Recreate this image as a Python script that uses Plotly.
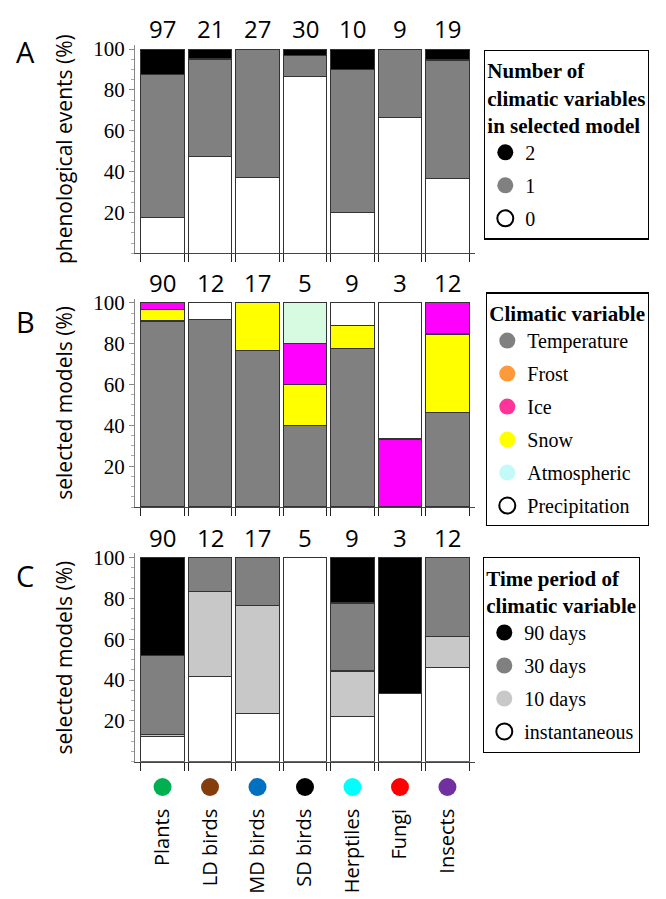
import plotly.graph_objects as go

W, H = 666, 899

# ---------------- data ----------------
groups = ["Plants", "LD birds", "MD birds", "SD birds", "Herptiles", "Fungi", "Insects"]
group_colors = ["#00b050", "#843c0c", "#0070c0", "#000000", "#00ffff", "#ff0000", "#7030a0"]

# Panel A: number of climatic variables in selected model (% of phenological events)
n_events = [97, 21, 27, 30, 10, 9, 19]
a_zero = [17.5, 47.6, 37.0, 86.7, 20.0, 66.7, 36.8]
a_one = [70.1, 47.6, 63.0, 10.0, 70.0, 33.3, 57.9]
a_two = [12.4, 4.8, 0.0, 3.3, 10.0, 0.0, 5.3]

# Panel B: climatic variable (% of selected models)
n_models = [90, 12, 17, 5, 9, 3, 12]
b_temperature = [91.1, 91.7, 76.5, 40.0, 77.8, 0.0, 46.2]
b_frost = [0, 0, 0, 0, 0, 0, 0]
b_snow = [5.6, 0.0, 23.5, 20.0, 11.1, 0.0, 38.5]
b_ice = [3.3, 0.0, 0.0, 20.0, 0.0, 33.3, 15.3]
b_atmospheric = [0.0, 0.0, 0.0, 20.0, 0.0, 0.0, 0.0]
b_precipitation = [0.0, 8.3, 0.0, 0.0, 11.1, 66.7, 0.0]

# Panel C: time period of climatic variable (% of selected models)
c_instant = [12.2, 41.7, 23.5, 100.0, 22.2, 33.3, 46.2]
c_10 = [1.1, 41.6, 52.9, 0.0, 22.2, 0.0, 15.3]
c_30 = [38.9, 16.7, 23.6, 0.0, 33.3, 0.0, 38.5]
c_90 = [47.8, 0.0, 0.0, 0.0, 22.3, 66.7, 0.0]

ytick_vals = [20, 40, 60, 80, 100]

# ---------------- helpers ----------------
def pyp(px):
    return 1 - px / H

def pxp(px):
    return px / W

x_idx = list(range(len(groups)))
bar_w = 0.92
edges = []
for i in x_idx:
    edges += [i - bar_w / 2, i + bar_w / 2]

SERIF = "Liberation Serif"
SANS = "Open Sans"
LINE = dict(color="#333333", width=1.2)
XRANGE = [-0.58, 6.58]

fig = go.Figure()

def add_bars(values, color, xa, ya):
    fig.add_trace(go.Bar(x=x_idx, y=values, width=bar_w, marker=dict(color=color, line=LINE),
                         xaxis=xa, yaxis=ya, showlegend=False, hoverinfo="skip"))

# Panel A
for vals, col in [(a_zero, "#ffffff"), (a_one, "#808080"), (a_two, "#000000")]:
    add_bars(vals, col, "x", "y")
# Panel B
for vals, col in [(b_temperature, "#808080"), (b_frost, "#ff9a3c"), (b_snow, "#ffff00"),
                  (b_ice, "#ff00ff"), (b_atmospheric, "#d7fbe1"), (b_precipitation, "#ffffff")]:
    add_bars(vals, col, "x2", "y2")
# Panel C
for vals, col in [(c_instant, "#ffffff"), (c_10, "#c8c8c8"), (c_30, "#808080"), (c_90, "#000000")]:
    add_bars(vals, col, "x3", "y3")

# coloured group markers below panel C (own invisible strip axes)
fig.add_trace(go.Scatter(x=x_idx, y=[0] * len(x_idx), mode="markers",
                         marker=dict(size=18, color=group_colors), cliponaxis=False,
                         xaxis="x4", yaxis="y4", showlegend=False, hoverinfo="skip"))

# legend entries (dummy traces)
def add_legend_item(name, color, legend, outline=False, idx=0):
    fig.add_trace(go.Scatter(
        x=[None], y=[None], mode="markers", name=name, legend=legend,
        legendgroup=f"{legend}_{idx}",
        marker=dict(size=16, color=color,
                    line=dict(color="black", width=2 if outline else 0)),
        showlegend=True))

for k, (nm, col, ol) in enumerate([("2", "#000000", False), ("1", "#808080", False), ("0", "#ffffff", True)]):
    add_legend_item(nm, col, "legend", ol, k)
for k, (nm, col, ol) in enumerate([("Temperature", "#808080", False), ("Frost", "#ff9a3c", False),
                                   ("Ice", "#ff3399", False), ("Snow", "#ffff00", False),
                                   ("Atmospheric", "#c2fafa", False), ("Precipitation", "#ffffff", True)]):
    add_legend_item(nm, col, "legend2", ol, k)
for k, (nm, col, ol) in enumerate([("90 days", "#000000", False), ("30 days", "#808080", False),
                                   ("10 days", "#c8c8c8", False), ("instantaneous", "#ffffff", True)]):
    add_legend_item(nm, col, "legend3", ol, k)

# ---------------- axes ----------------
ppu = 2.06
panels = [  # (zero pixel, y title)
    (247.5, "phenological events (%)"),
    (503.5, "selected models (%)"),
    (760.5, "selected models (%)"),
]
ymax = 102
xdom = [pxp(135), pxp(475)]
layout_axes = {}
for k, (zero_px, title) in enumerate(panels):
    sfx = "" if k == 0 else str(k + 1)
    top_px = zero_px - ymax * ppu
    layout_axes["xaxis" + sfx] = dict(
        domain=xdom, range=XRANGE, anchor="y" + sfx,
        showline=True, linecolor="#444444", linewidth=1.2, showgrid=False, zeroline=False,
        tickmode="array", tickvals=x_idx, ticktext=groups if k == 2 else [""] * 7,
        ticks="", showticklabels=(k == 2), tickangle=-90,
        tickfont=dict(family=SANS, size=20, color="black"),
        ticklabelstandoff=38,
        minor=dict(tickmode="array", tickvals=edges, ticks="outside", ticklen=8,
                   tickcolor="#222222", tickwidth=1.3),
    )
    layout_axes["yaxis" + sfx] = dict(
        domain=[pyp(zero_px), pyp(top_px)], range=[0, ymax], anchor="x" + sfx,
        showline=True, linecolor="#888888", linewidth=1, showgrid=False, zeroline=False,
        tickmode="array", tickvals=ytick_vals, ticks="outside", ticklen=5, tickcolor="#888888",
        tickfont=dict(family=SERIF, size=21, color="black"),
        minor=dict(dtick=5, tick0=0, ticks="outside", ticklen=3, tickcolor="#aaaaaa"),
        title=dict(text=title, font=dict(family=SANS, size=21, color="black"), standoff=14),
    )
layout_axes["xaxis4"] = dict(domain=xdom, range=XRANGE, anchor="y4", visible=False)
layout_axes["yaxis4"] = dict(domain=[pyp(796), pyp(776)], range=[-1, 1], anchor="x4", visible=False)

# ---------------- annotations ----------------
annotations = []
for k, counts in enumerate([n_events, n_models, n_models]):
    sfx = "" if k == 0 else str(k + 1)
    for i, n in enumerate(counts):
        annotations.append(dict(x=i, y=100, xref="x" + sfx, yref="y" + sfx, text=str(n),
                                showarrow=False, yanchor="bottom", yshift=2,
                                font=dict(family=SANS, size=24, color="black")))
for letter, ypx in [("A", 44), ("B", 316), ("C", 573)]:
    annotations.append(dict(x=pxp(25), y=pyp(ypx), xref="paper", yref="paper", text=letter,
                            showarrow=False, xanchor="center", yanchor="middle",
                            font=dict(family=SANS, size=29, color="black")))

leg_common = dict(bgcolor="white", bordercolor="black", borderwidth=1.3,
                  font=dict(family=SERIF, size=20, color="black"),
                  xanchor="left", yanchor="top", tracegroupgap=4, itemsizing="trace")
TITLE_FONT = dict(family=SERIF, size=21, color="black")
fig.update_layout(
    width=W, height=H, margin=dict(l=0, r=0, t=0, b=0),
    paper_bgcolor="white", plot_bgcolor="white",
    barmode="stack", bargap=0.08,
    annotations=annotations,
    legend=dict(x=pxp(484), y=pyp(42),
                title=dict(text="<b>Number of<br>climatic variables<br>in selected model</b>",
                           font=TITLE_FONT), **leg_common),
    legend2=dict(x=pxp(486), y=pyp(287),
                 title=dict(text="<b>Climatic variable</b>", font=TITLE_FONT),
                 **leg_common),
    legend3=dict(x=pxp(483), y=pyp(554),
                 title=dict(text="<b>Time period of<br>climatic variable</b>",
                            font=TITLE_FONT), **leg_common),
    **layout_axes,
)

fig.write_html("out.html", config={"displayModeBar": False},
               post_script="document.body.style.margin='0';")
